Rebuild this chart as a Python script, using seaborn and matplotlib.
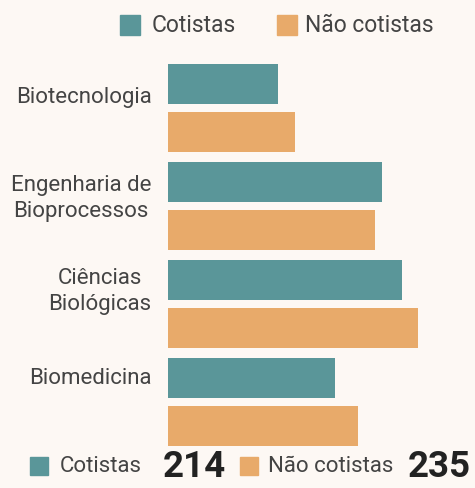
import numpy as np
import pandas as pd
import matplotlib.pyplot as plt
import seaborn as sns
from matplotlib.patches import Rectangle

# data
cursos = ['Biotecnologia', 'Engenharia de\nBioprocessos', 'Ciências\nBiológicas', 'Biomedicina']
cotistas = [33, 64, 70, 50]
nao_cotistas = [38, 62, 75, 57]
grupos = ['Cotistas', 'Não cotistas']
total_cotistas = 214
total_nao_cotistas = 235

bg = '#fdf8f4'
cores = ['#5a9699', '#e8aa6a']
texto = '#444444'

sns.set_theme(style='white')
plt.rcParams['font.family'] = ['Roboto', 'DejaVu Sans']

df = pd.DataFrame({
    'curso': cursos * 2,
    'valor': cotistas + nao_cotistas,
    'grupo': [grupos[0]] * len(cursos) + [grupos[1]] * len(cursos),
})

fig = plt.figure(figsize=(4.75, 4.88), dpi=100, facecolor=bg)
ax = fig.add_axes([0.354, 0.076, 0.632, 0.803])
ax.set_facecolor(bg)

sns.barplot(data=df, y='curso', x='valor', hue='grupo', orient='h',
            palette=cores, saturation=1, width=0.99, gap=0.17, ax=ax,
            legend=False, edgecolor='none')

ax.set_xlim(0, 90)
ax.set_ylim(3.5, -0.5)
ax.set_xlabel('')
ax.set_ylabel('')
ax.set_xticks([])
# labels sit a little above each group's centre
ax.set_yticks(np.arange(len(cursos)) + np.array([-0.13, -0.13, -0.18, -0.26]))
ax.set_yticklabels(cursos, fontsize=16, color=texto)
for t in ax.get_yticklabels():
    t.set_multialignment('center')
    t.set_linespacing(1.3)
ax.tick_params(axis='y', length=0, pad=12)
sns.despine(ax=ax, left=True, bottom=True)


def quadrado(x, y, w, h, cor):
    fig.patches.append(Rectangle((x / 475, 1 - (y + h) / 488), w / 475, h / 488,
                                 transform=fig.transFigure, color=cor, figure=fig))


# top legend
quadrado(120, 15, 20, 20, cores[0])
fig.text(152 / 475, 1 - 25 / 488, grupos[0], fontsize=16.5, color=texto, va='center')
quadrado(277, 15, 20, 20, cores[1])
fig.text(305 / 475, 1 - 25 / 488, grupos[1], fontsize=16.5, color=texto, va='center')

# bottom totals
quadrado(30, 457, 18, 18, cores[0])
fig.text(60 / 475, 1 - 467 / 488, grupos[0], fontsize=16, color=texto, va='center')
fig.text(163 / 475, 1 - 467 / 488, str(total_cotistas), fontsize=26.5, color='#222222',
         va='center', fontweight='bold')
quadrado(240, 457, 18, 18, cores[1])
fig.text(268 / 475, 1 - 467 / 488, grupos[1], fontsize=16, color=texto, va='center')
fig.text(408 / 475, 1 - 467 / 488, str(total_nao_cotistas), fontsize=26.5, color='#222222',
         va='center', fontweight='bold')

fig.savefig('out.png', dpi=100, facecolor=bg)
